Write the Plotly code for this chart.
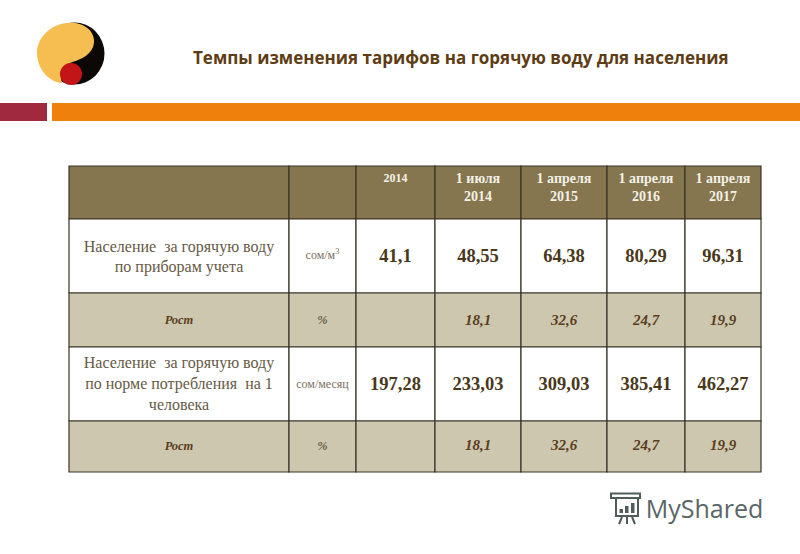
import plotly.graph_objects as go

# table content
col_headers = ['2014', '1 июля<br>2014', '1 апреля<br>2015', '1 апреля<br>2016', '1 апреля<br>2017']
row_labels = ['Население  за горячую воду<br>по приборам учета', 'Население  за горячую воду<br>по норме потребления  на 1<br>человека']
row_units = ['сом/м<sup>3</sup>', 'сом/месяц']
tariff_meter = ['41,1', '48,55', '64,38', '80,29', '96,31']
tariff_norm = ['197,28', '233,03', '309,03', '385,41', '462,27']
growth_label = 'Рост'
growth_unit = '%'
growth = ['18,1', '32,6', '24,7', '19,9']
title_text = 'Темпы изменения тарифов на горячую воду для населения'

# layout of the page, in pixels
col_edges = [69, 289, 356, 435, 521, 607, 685, 761]
row_edges = [166, 219, 293, 347, 421, 472]
row_fill = ['#857650', '#ffffff', '#cdc7b0', '#ffffff', '#cdc7b0']
serif = 'Liberation Serif'

col_mid = [(a + b) / 2 for a, b in zip(col_edges[:-1], col_edges[1:])]
row_mid = [(a + b) / 2 for a, b in zip(row_edges[:-1], row_edges[1:])]

shapes = []
for r in range(5):
    for c in range(7):
        shapes.append(dict(type='rect', x0=col_edges[c], x1=col_edges[c + 1], y0=row_edges[r], y1=row_edges[r + 1],
                           fillcolor=row_fill[r], line=dict(color='#3a3528', width=1.2), layer='below'))

# header stripes
shapes.append(dict(type='rect', x0=0, x1=47, y0=103, y1=121, fillcolor='#a0283f', line_width=0, layer='below'))
shapes.append(dict(type='rect', x0=52, x1=800, y0=103, y1=121, fillcolor='#f0800c', line_width=0, layer='below'))

# logo
shapes.append(dict(type='circle', x0=44, x1=104.5, y0=22.5, y1=84.5, fillcolor='#0c0805', line_width=0, layer='below'))
shapes.append(dict(type='path', path='M 75 23 C 90 25 97 37 93 47 C 89 57 78 60 70 63 C 62 66 59 72 62 83 C 48 82 37 68 37 53 C 37 35 55 21 75 23 Z',
                   fillcolor='#f6bd50', line_width=0, layer='below'))
shapes.append(dict(type='circle', x0=60, x1=82, y0=63, y1=85, fillcolor='#c31418', line_width=0, layer='below'))

# watermark icon
icon = '#505c5a'
shapes.append(dict(type='rect', x0=611, x1=640, y0=493.5, y1=498, line=dict(color=icon, width=2)))
shapes.append(dict(type='rect', x0=616, x1=638, y0=498, y1=516, line=dict(color=icon, width=2)))
for x, top in [(619.5, 509), (625, 506), (631, 503)]:
    shapes.append(dict(type='rect', x0=x, x1=x + 3.5, y0=top, y1=513, fillcolor=icon, line_width=0))
for x0, x1 in [(622, 619), (627, 627), (632, 635)]:
    shapes.append(dict(type='line', x0=x0, x1=x1, y0=517, y1=524, line=dict(color=icon, width=2)))


def text_trace(x, y, text, size, color, family=serif):
    return go.Scatter(x=x, y=y, text=text, mode='text', textposition='middle center',
                      textfont=dict(family=family, size=size, color=color), hoverinfo='skip', showlegend=False)


year_col = col_mid[2:]
head_top = [h.split('<br>')[0] for h in col_headers[1:]]
head_bottom = [h.split('<br>')[1] for h in col_headers[1:]]
data = [
    text_trace(year_col[:1], [179], ['<b>%s</b>' % col_headers[0]], 12, '#f4f1e6'),
    text_trace(year_col[1:], [179.5] * 4, ['<b>%s</b>' % h for h in head_top], 14, '#f4f1e6'),
    text_trace(year_col[1:], [197] * 4, ['<b>%s</b>' % h for h in head_bottom], 14, '#f4f1e6'),
    text_trace([col_mid[0]], [row_mid[1] + 2], [row_labels[0]], 16, '#655a45'),
    text_trace([col_mid[0]], [row_mid[3] + 1], [row_labels[1]], 16, '#655a45'),
    text_trace([col_mid[1]] * 2, [row_mid[1], row_mid[3] + 1], row_units, 12, '#7a705c'),
    text_trace(year_col, [row_mid[1] + 1.5] * 5, ['<b>%s</b>' % v for v in tariff_meter], 18.5, '#49381a'),
    text_trace(year_col, [row_mid[3] + 1] * 5, ['<b>%s</b>' % v for v in tariff_norm], 18.5, '#49381a'),
    text_trace([col_mid[0]] * 2, [row_mid[2] + 1, row_mid[4]], ['<b><i>%s</i></b>' % growth_label] * 2, 12.5, '#5a3d1c'),
    text_trace([col_mid[1]] * 2, [row_mid[2] + 1, row_mid[4]], ['<b><i>%s</i></b>' % growth_unit] * 2, 12.5, '#6b5f48'),
    text_trace(year_col[1:], [row_mid[2] + 1] * 4, ['<b><i>%s</i></b>' % v for v in growth], 15, '#5a3d1c'),
    text_trace(year_col[1:], [row_mid[4]] * 4, ['<b><i>%s</i></b>' % v for v in growth], 15, '#5a3d1c'),
    text_trace([704.5], [511.5], ['MyShared'], 25, '#5a6665', family='Open Sans'),
]

layout = go.Layout(
    width=800, height=554, margin=dict(l=0, r=0, t=0, b=0),
    paper_bgcolor='#ffffff', plot_bgcolor='#ffffff',
    title=dict(text='<b>%s</b>' % title_text, x=193 / 800, xanchor='left', y=1 - 58 / 554, yanchor='middle',
               font=dict(family='Open Sans', size=17, color='#5e3c14')),
    xaxis=dict(range=[0, 800], visible=False),
    yaxis=dict(range=[554, 0], visible=False),
    shapes=shapes,
)

fig = go.Figure(data=data, layout=layout)
# the page has a default body margin, the picture should touch the window edge
fig.write_html("out.html", config=dict(displayModeBar=False), post_script='document.body.style.margin = "0";')
